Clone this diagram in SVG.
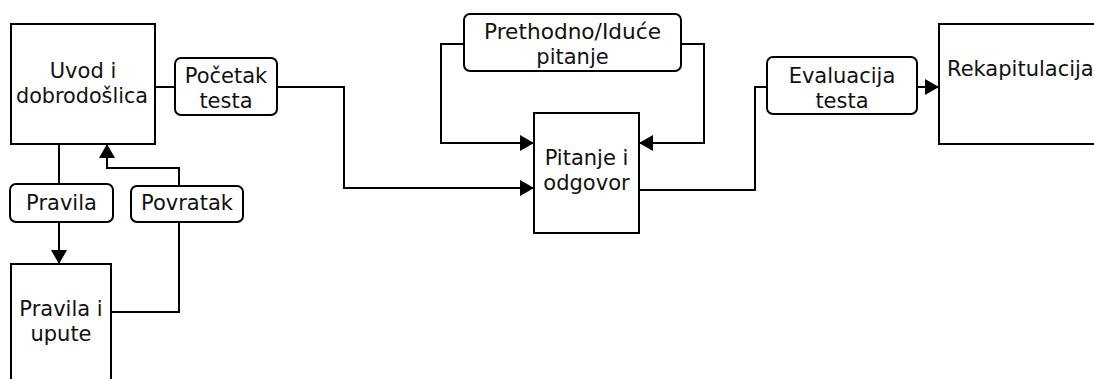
<svg xmlns="http://www.w3.org/2000/svg" width="1094" height="379" viewBox="0 0 1094 379">
<style>
.box{fill:#fff;stroke:#000;stroke-width:2}
.lbl{fill:#fff;stroke:#000;stroke-width:2}
.t{font-family:"DejaVu Sans",Verdana,sans-serif;font-size:21px;fill:#111;text-anchor:middle}
.c{fill:none;stroke:#000;stroke-width:2}
</style>
<defs>
<marker id="ah" markerUnits="userSpaceOnUse" markerWidth="15" markerHeight="16" refX="14" refY="8" orient="auto">
<path d="M0,0 L14,8 L0,16 z" fill="#000"/>
</marker>
</defs>
<rect width="1094" height="379" fill="#fff"/>
<g id="connectors">
<path class="c" d="M155,87 H175"/>
<path class="c" d="M277,87 H344 V188 H534" marker-end="url(#ah)"/>
<path class="c" d="M464,44 H441 V143 H534" marker-end="url(#ah)"/>
<path class="c" d="M681,44 H704 V143 H639" marker-end="url(#ah)"/>
<path class="c" d="M639,190 H755 V87 H767"/>
<path class="c" d="M917,87 H939" marker-end="url(#ah)"/>
<path class="c" d="M59,144 V184"/>
<path class="c" d="M59,222 V264" marker-end="url(#ah)"/>
<path class="c" d="M111,312 H179 V222"/>
<path class="c" d="M179,186 V168 H107 V144" marker-end="url(#ah)"/>
</g>
<g id="uvod">
<rect class="box" x="11" y="24" width="144" height="120"/>
<text class="t" x="83" y="77.5">Uvod i</text>
<text class="t" x="82" y="102.5" textLength="132" lengthAdjust="spacingAndGlyphs">dobrodošlica</text>
</g>
<g id="pocetak">
<rect class="lbl" x="175" y="58" width="102" height="57" rx="6"/>
<text class="t" x="226" y="83">Početak</text>
<text class="t" x="226" y="108">testa</text>
</g>
<g id="prethodno">
<rect class="lbl" x="464" y="14" width="217" height="57" rx="6"/>
<text class="t" x="572.5" y="38.5" textLength="177" lengthAdjust="spacingAndGlyphs">Prethodno/Iduće</text>
<text class="t" x="572.5" y="63.5">pitanje</text>
</g>
<g id="pitanje">
<rect class="box" x="534" y="113" width="105" height="120"/>
<text class="t" x="586.5" y="165">Pitanje i</text>
<text class="t" x="586.5" y="190">odgovor</text>
</g>
<g id="evaluacija">
<rect class="lbl" x="767" y="57" width="150" height="57" rx="6"/>
<text class="t" x="842" y="82.5">Evaluacija</text>
<text class="t" x="842" y="107.5">testa</text>
</g>
<g id="rekapitulacija">
<rect class="box" x="939" y="24" width="200" height="120"/>
<text class="t" x="947" y="76" style="text-anchor:start">Rekapitulacija</text>
</g>
<g id="pravila">
<rect class="lbl" x="10" y="184" width="103" height="38" rx="6"/>
<text class="t" x="61.5" y="209.5">Pravila</text>
</g>
<g id="povratak">
<rect class="lbl" x="131" y="186" width="112" height="36" rx="6"/>
<text class="t" x="187" y="209.5">Povratak</text>
</g>
<g id="pravila-upute">
<rect class="box" x="11" y="264" width="100" height="130"/>
<text class="t" x="61" y="316">Pravila i</text>
<text class="t" x="61" y="341">upute</text>
</g>
</svg>
